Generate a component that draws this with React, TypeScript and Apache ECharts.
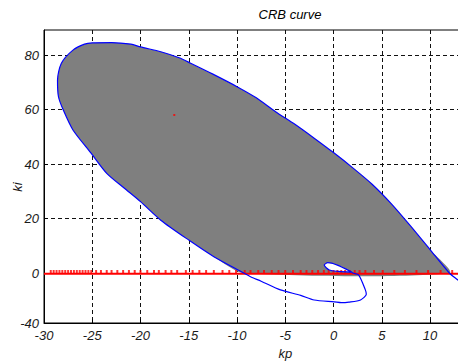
import React, { useEffect, useRef } from "react";
import * as echarts from "echarts";

// Upper boundary of the stable (gray) region, from (12,0) round to (-9.3,0)
const upperKp = [12.0, 10.0, 8.0, 6.0, 4.0, 2.0, 0.0, -2.0, -4.0, -6.0, -8.0, -10.0, -12.5, -14.8, -16.0, -17.9, -20.0, -21.0, -23.0, -25.0, -25.8, -27.0, -28.2, -28.6, -28.5, -28.0, -27.0, -25.1, -23.5, -21.7, -20.0, -17.9, -15.0, -12.4, -9.3];
const upperKi = [0.0, 8.6, 17.2, 25.4, 32.6, 38.6, 44.2, 49.5, 54.6, 59.2, 64.3, 68.4, 73.0, 77.0, 79.0, 81.2, 83.0, 84.0, 84.6, 84.5, 84.0, 81.8, 77.0, 70.8, 64.7, 59.8, 52.5, 43.9, 36.6, 31.2, 26.2, 19.4, 12.1, 6.0, 0.0];

// Blue curve before the upper boundary (right tail below zero)
const tailKp = [13.6, 12.9];
const tailKi = [-4.8, -2.6];

// Blue curve after the upper boundary (lower spiral and small loop)
const spiralKp = [-8.6, -7.5, -5.5, -3.4, -2.0, 0.1, 0.8, 1.6, 2.8, 3.4, 3.3, 2.6, 2.0, 1.8, 0.4, -0.6, -0.96, -0.44, 0.5, 1.8];
const spiralKi = [-1.4, -3.0, -6.2, -8.2, -9.9, -10.6, -10.9, -10.7, -9.9, -7.8, -6.2, -0.7, 0.0, 0.5, 2.9, 3.8, 2.9, 1.1, 0.6, 0.3];

// White inside of the small loop
const loopKp = [1.8, 0.4, -0.6, -0.96, -0.44, 0.5, 1.8];
const loopKi = [0.5, 2.9, 3.8, 2.9, 1.1, 0.6, 0.3];

// Red roots along ki = 0
const redLineKp = [-30, 14];
const redLineKi = [-0.3, -0.3];
const redMarkKp = [-29.3, -29.0, -28.7, -28.4, -28.1, -27.8, -27.5, -27.2, -26.9, -26.6, -26.3, -26.0, -25.7, -25.4, -25.1, -24.6, -24.1, -23.5, -23.0, -22.4, -21.8, -21.2, -20.6, -20.0, -19.3, -18.6, -18.1, -17.4, -16.8, -16.2, -15.3, -14.6, -13.9, -13.2, -12.4, -11.5, -10.8, -10.1, -9.2, -8.6, -7.8, -7.2, -6.4, -5.7, -5.0, -4.2, -3.4, -2.8, -2.2, -1.6, -1.0, -0.5, 0.0, 0.4, 0.8, 1.2, 1.7, 2.2, 2.7, 3.3, 4.2, 5.1, 6.3, 7.4, 8.6, 9.8, 11.1, 12.3];
const strayPoint = [-16.5, 58];

// Axes
const xMin = -30;
const xMax = 20;
const xStep = 5;
const xLastLabel = 10;
const yMin = -18.35;
const yMax = 89.2;
const yTickValues = [0, 20, 40, 60, 80];
const yTickLabels = ["0", "20", "40", "60", "80"];
const yBottomLabel = "-40";

const FONT = "'Liberation Sans', Arial, sans-serif";

export default function App() {
  const ref = useRef<HTMLDivElement>(null);
  useEffect(() => {
    if (!ref.current) return;
    const chart = echarts.init(ref.current, undefined, { renderer: "svg" });
    const zip = (a: number[], b: number[]) => a.map((v, i) => [v, b[i]]);
    const blue = [...zip(tailKp, tailKi), ...zip(upperKp, upperKi), ...zip(spiralKp, spiralKi)];
    const polyRender = (xs: number[], ys: number[], fill: string) => (params: any, api: any) => {
      const pts = xs.map((x, i) => api.coord([x, ys[i]]));
      return {
        type: "polygon",
        shape: { points: pts, smooth: 0.25 },
        style: { fill, stroke: "none" },
        silent: true,
      };
    };
    const textStyle = { fontFamily: FONT, fontStyle: "italic", fontSize: 13, color: "#1a1a1a" };
    chart.setOption({
      animation: false,
      backgroundColor: "#fff",
      title: {
        text: "CRB curve",
        left: 285,
        top: 3,
        textAlign: "center",
        textStyle: { fontFamily: FONT, fontStyle: "italic", fontWeight: "normal", fontSize: 13, color: "#000" },
      },
      graphic: [
        {
          type: "text",
          x: 17,
          y: 187,
          rotation: Math.PI / 2,
          style: {
            text: "ki",
            font: "italic 13px 'Liberation Sans', Arial, sans-serif",
            fill: "#1a1a1a",
            textAlign: "center",
            textVerticalAlign: "middle",
          },
        },
      ],
      grid: {
        left: 44,
        top: 30,
        bottom: 41,
        right: -68.5,
        containLabel: false,
        outerBoundsMode: "none",
        show: true,
        borderColor: "#000",
        borderWidth: 1,
        backgroundColor: "#fff",
      },
      xAxis: {
        type: "value",
        min: xMin,
        max: xMax,
        interval: xStep,
        name: "kp",
        nameLocation: "middle",
        nameGap: 24,
        nameTextStyle: textStyle,
        axisLine: { onZero: false, lineStyle: { color: "#000" } },
        axisTick: { inside: true, length: 4, lineStyle: { color: "#000" } },
        axisLabel: {
          ...textStyle,
          margin: 6,
          showMaxLabel: true,
          showMinLabel: true,
          formatter: (v: number) => (v <= xLastLabel ? String(v) : ""),
        },
        splitLine: { show: true, lineStyle: { color: "#111", type: [4, 3], width: 1 } },
      },
      yAxis: {
        type: "value",
        min: yMin,
        max: yMax,
        axisLine: { show: true, onZero: false, lineStyle: { color: "#000" } },
        axisTick: { show: true, inside: true, length: 4, customValues: yTickValues, lineStyle: { color: "#000" } },
        axisLabel: {
          ...textStyle,
          margin: 5,
          customValues: [yMin, ...yTickValues],
          formatter: (v: number) => {
            const i = yTickValues.indexOf(v);
            return i >= 0 ? yTickLabels[i] : yBottomLabel;
          },
        },
        splitLine: { show: true, lineStyle: { color: "#111", type: [4, 3], width: 1 } },
      },
      series: [
        {
          type: "custom",
          coordinateSystem: "cartesian2d",
          clip: true,
          data: [[0, 0]],
          renderItem: polyRender(upperKp, upperKi, "#7f7f7f"),
          z: 1,
        },
        {
          type: "custom",
          coordinateSystem: "cartesian2d",
          clip: true,
          data: [[0, 0]],
          renderItem: polyRender(loopKp, loopKi, "#ffffff"),
          z: 2,
        },
        {
          type: "line",
          data: zip(redLineKp, redLineKi),
          showSymbol: false,
          lineStyle: { color: "#ff0000", width: 2 },
          clip: true,
          z: 3,
        },
        {
          type: "scatter",
          data: redMarkKp.map((k) => [k, 0]),
          symbol: "rect",
          symbolSize: [2, 4],
          symbolOffset: [0, -1],
          itemStyle: { color: "#ff0000" },
          z: 4,
        },
        {
          type: "scatter",
          data: [strayPoint],
          symbol: "rect",
          symbolSize: 2,
          itemStyle: { color: "#ff0000" },
          z: 4,
        },
        {
          type: "line",
          data: blue,
          showSymbol: false,
          smooth: 0.25,
          clip: true,
          lineStyle: { color: "#0000ff", width: 1.2 },
          z: 5,
        },
      ],
    });
    return () => chart.dispose();
  }, []);
  return (
    <div
      ref={ref}
      style={{ position: "fixed", left: 0, top: 0, width: 458, height: 364, background: "#fff" }}
    />
  );
}
